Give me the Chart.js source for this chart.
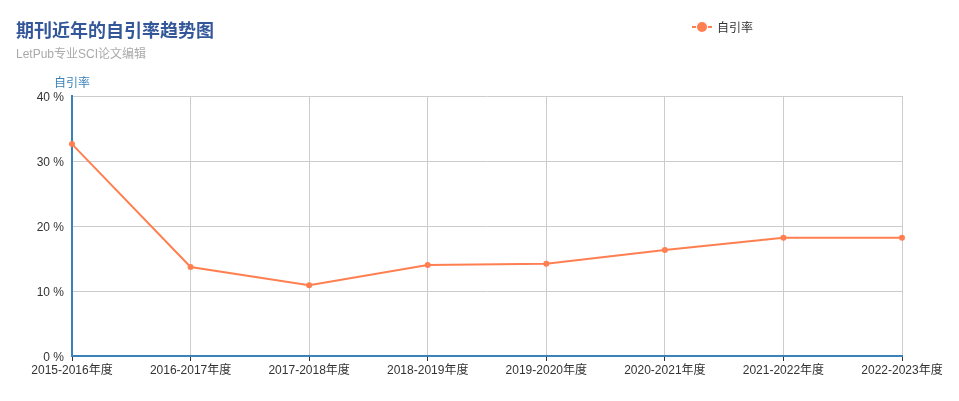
<!DOCTYPE html>
<html lang="zh">
<head>
  <meta charset="UTF-8" />
  <title>期刊近年的自引率趋势图</title>
  <script src="https://cdn.jsdelivr.net/npm/chart.js"></script>
  <style>
    body {
      margin: 0;
      padding: 0;
      background: #fff;
      font-family: 'Liberation Sans', 'Noto Sans CJK SC', sans-serif;
    }

    .wrap {
      position: relative;
      width: 959px;
      height: 401px;
    }

    .title {
      position: absolute;
      left: 16px;
      top: 16px;
      font-size: 18px;
      font-weight: bold;
      color: #335799;
    }

    .subtitle {
      position: absolute;
      left: 16px;
      top: 44px;
      font-size: 12px;
      color: #aaa;
    }

    .legend {
      position: absolute;
      left: 692px;
      top: 18px;
      font-size: 12px;
      color: #333;
      display: flex;
      align-items: center;
    }

    .legend .mark {
      position: relative;
      width: 20px;
      height: 14px;
      margin-right: 5px;
    }

    .legend .mark::before {
      content: '';
      position: absolute;
      left: 0;
      right: 0;
      top: 6px;
      height: 2px;
      background: #ff7f50;
    }

    .legend .mark::after {
      content: '';
      position: absolute;
      left: 5px;
      top: 2px;
      width: 10px;
      height: 10px;
      border-radius: 50%;
      background: #ff7f50;
      box-shadow: 0 0 0 1px #fff;
    }

    canvas {
      position: absolute;
      left: 0;
      top: 0;
    }
  </style>
</head>
<body>
  <div class="wrap">
    <canvas id="rateChart" width="959" height="401"></canvas>
    <div class="title">期刊近年的自引率趋势图</div>
    <div class="subtitle">LetPub专业SCI论文编辑</div>
    <div class="legend"><span class="mark"></span>自引率</div>
  </div>

  <script>
    const years = ['2015-2016年度', '2016-2017年度', '2017-2018年度', '2018-2019年度',
                   '2019-2020年度', '2020-2021年度', '2021-2022年度', '2022-2023年度'];
    const selfCiteRate = [32.6, 13.7, 10.9, 14.0, 14.2, 16.3, 18.2, 18.2];
    const yTicks = [0, 10, 20, 30, 40];

    const axisBlue = '#3c82b9';
    const fontFamily = "'Liberation Sans', 'Noto Sans CJK SC', sans-serif";

    // y axis name above the axis, like the original
    const axisName = {
      id: 'axisName',
      afterDraw(chart) {
        const ctx = chart.ctx;
        const area = chart.chartArea;
        ctx.save();
        ctx.font = '12px ' + fontFamily;
        ctx.fillStyle = axisBlue;
        ctx.textAlign = 'center';
        ctx.textBaseline = 'middle';
        ctx.fillText('自引率', area.left, area.top - 12);
        ctx.restore();
      }
    };

    const ctx = document.getElementById('rateChart').getContext('2d');
    new Chart(ctx, {
      type: 'line',
      data: {
        labels: years,
        datasets: [{
          label: '自引率',
          data: selfCiteRate,
          borderColor: '#ff7f50',
          backgroundColor: '#ff7f50',
          borderWidth: 2,
          pointRadius: 3,
          pointBorderWidth: 0,
          pointHoverRadius: 5,
          tension: 0,
          fill: false
        }]
      },
      options: {
        responsive: false,
        animation: false,
        layout: {
          padding: { left: 0, right: 57, top: 96, bottom: 0 }
        },
        plugins: {
          legend: { display: false },
          title: { display: false },
          tooltip: { enabled: false }
        },
        scales: {
          x: {
            offset: false,
            afterFit(scale) { scale.height = 45; },
            grid: {
              color: '#ccc',
              tickColor: '#333',
              tickLength: 5
            },
            border: { color: axisBlue, width: 2 },
            ticks: {
              color: '#333',
              padding: 2,
              maxRotation: 0,
              autoSkip: false,
              font: { size: 12, family: fontFamily }
            }
          },
          y: {
            min: 0,
            max: 40,
            afterFit(scale) { scale.width = 72; },
            afterBuildTicks(scale) {
              scale.ticks = yTicks.map(v => ({ value: v }));
            },
            grid: {
              color: '#ccc',
              drawTicks: false
            },
            border: { color: axisBlue, width: 2 },
            ticks: {
              color: '#333',
              padding: 8,
              labelOffset: 2,
              font: { size: 12, family: fontFamily },
              callback: v => v + ' %'
            }
          }
        }
      },
      plugins: [axisName]
    });
  </script>
</body>
</html>
